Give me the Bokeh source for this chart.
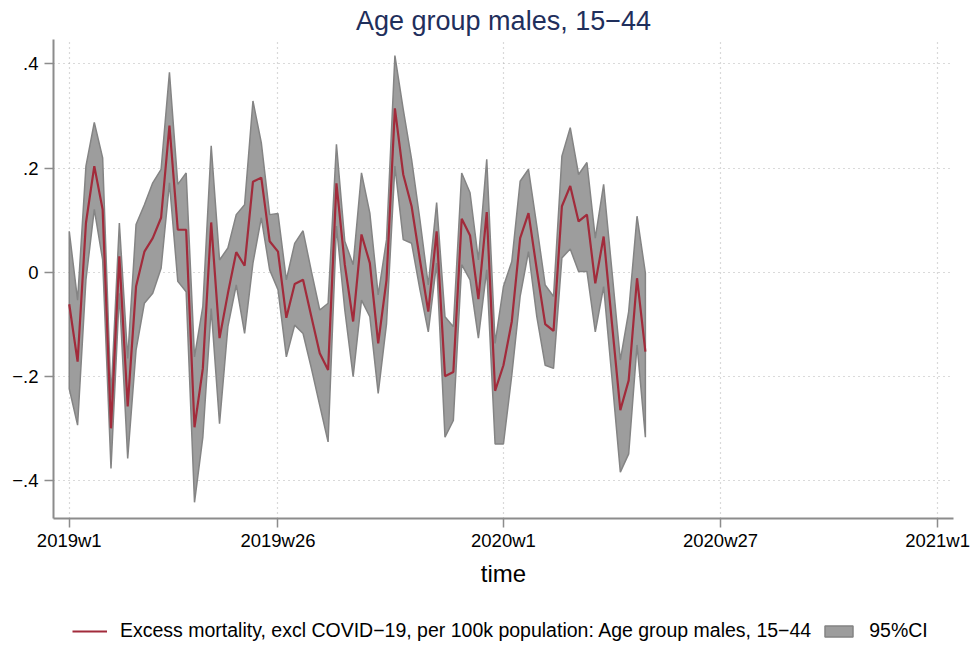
from bokeh.plotting import figure
from bokeh.models import FixedTicker, Legend, LegendItem
from bokeh.layouts import column
from bokeh.embed import file_html
from bokeh.resources import INLINE

# ---- data (weeks since 2019w1, Stata-style 52 weeks per year) ----
week_index = list(range(70))
excess = [-0.061, -0.171, 0.095, 0.204, 0.121, -0.299, 0.031, -0.257, -0.027, 0.040,
          0.066, 0.105, 0.282, 0.082, 0.082, -0.297, -0.184, 0.096, -0.126, -0.040,
          0.039, 0.013, 0.174, 0.182, 0.060, 0.040, -0.087, -0.022, -0.014, -0.085,
          -0.155, -0.187, 0.171, 0.015, -0.094, 0.073, 0.018, -0.136, -0.014, 0.315,
          0.188, 0.127, 0.024, -0.075, 0.079, -0.199, -0.191, 0.103, 0.071, -0.051,
          0.116, -0.227, -0.178, -0.094, 0.066, 0.114, 0.005, -0.099, -0.112, 0.127,
          0.166, 0.098, 0.111, -0.021, 0.069, -0.098, -0.264, -0.207, -0.011, -0.152]
ci_upper = [0.079, -0.053, 0.204, 0.288, 0.220, -0.240, 0.095, -0.165, 0.092, 0.130,
            0.172, 0.198, 0.384, 0.169, 0.191, -0.162, -0.065, 0.243, 0.024, 0.047,
            0.111, 0.130, 0.329, 0.249, 0.111, 0.113, -0.014, 0.056, 0.080, 0.002,
            -0.072, -0.059, 0.246, 0.060, 0.015, 0.191, 0.114, -0.043, 0.063, 0.416,
            0.313, 0.217, 0.101, -0.024, 0.134, -0.085, -0.104, 0.191, 0.153, 0.024,
            0.217, -0.136, -0.027, 0.021, 0.175, 0.198, 0.089, -0.024, -0.046, 0.223,
            0.278, 0.188, 0.211, 0.066, 0.169, 0.002, -0.168, -0.075, 0.108, -0.001]
ci_lower = [-0.223, -0.293, -0.014, 0.121, 0.024, -0.376, -0.040, -0.357, -0.149, -0.059,
            -0.040, 0.008, 0.172, -0.017, -0.037, -0.441, -0.316, -0.069, -0.290, -0.104,
            -0.024, -0.117, 0.018, 0.105, 0.005, -0.033, -0.162, -0.101, -0.117, -0.184,
            -0.255, -0.325, 0.089, -0.072, -0.200, -0.053, -0.085, -0.232, -0.098, 0.204,
            0.063, 0.056, -0.033, -0.114, 0.018, -0.316, -0.284, 0.015, -0.014, -0.126,
            0.005, -0.329, -0.329, -0.197, -0.046, 0.040, -0.085, -0.178, -0.184, 0.028,
            0.045, 0.002, 0.002, -0.114, -0.027, -0.203, -0.383, -0.348, -0.139, -0.316]

x_tick_pos = [0, 25, 52, 78, 104]
x_tick_labels = ["2019w1", "2019w26", "2020w1", "2020w27", "2021w1"]
y_tick_pos = [-0.4, -0.2, 0.0, 0.2, 0.4]
y_tick_labels = ["\u2212.4", "\u2212.2", "0", ".2", ".4"]

series_label = "Excess mortality, excl COVID\u221219, per 100k population: Age group males, 15\u221244"
ci_label = "95%CI"
title_text = "Age group males, 15\u221244"
x_title = "time"

FONT = "Liberation Sans"
AXIS_COLOR = "#8c8c8c"
GRID_COLOR = "#b4b4b4"
LINE_COLOR = "#a22b3b"
BAND_FILL = "#9d9d9d"
BAND_EDGE = "#848484"

p = figure(width=977, height=600, x_range=(-1.886, 105.9), y_range=(-0.472, 0.447),
           output_backend="svg", toolbar_location=None,
           min_border_left=53, min_border_right=24, min_border_top=0, min_border_bottom=82,
           background_fill_color="white", border_fill_color="white")
p.outline_line_color = None

# CI band as polygon
band_x = week_index + week_index[::-1]
band_y = ci_upper + ci_lower[::-1]
p.patch(band_x, band_y, fill_color=BAND_FILL, line_color=BAND_EDGE, line_width=1.5)
p.line(week_index, excess, line_color=LINE_COLOR, line_width=2.2)

# title
p.title.text = title_text
p.title.align = "center"
p.title.text_font = FONT
p.title.text_font_size = "27px"
p.title.text_font_style = "normal"
p.title.text_color = "#1f2f5c"
p.title.standoff = 7

# axes
xa = p.xaxis[0]
xa.ticker = FixedTicker(ticks=x_tick_pos)
xa.major_label_overrides = {k: v for k, v in zip(x_tick_pos, x_tick_labels)}
ya = p.yaxis[0]
ya.ticker = FixedTicker(ticks=y_tick_pos)
ya.major_label_overrides = {k: v for k, v in zip(y_tick_pos, y_tick_labels)}
for ax in (xa, ya):
    ax.axis_line_color = AXIS_COLOR
    ax.axis_line_width = 2
    ax.major_tick_line_color = AXIS_COLOR
    ax.major_tick_line_width = 1.5
    ax.major_tick_out = 9
    ax.major_tick_in = 0
    ax.minor_tick_line_color = None
    ax.major_label_text_font = FONT
    ax.major_label_text_font_size = "18.5px"
    ax.major_label_text_color = "black"
xa.major_label_standoff = 2
ya.major_label_standoff = 6
ya.major_label_orientation = "horizontal"
xa.axis_label = x_title
xa.axis_label_text_font = FONT
xa.axis_label_text_font_size = "24px"
xa.axis_label_text_font_style = "normal"
xa.axis_label_text_color = "black"
xa.axis_label_standoff = 6

# grid
for g in (p.xgrid[0], p.ygrid[0]):
    g.grid_line_color = GRID_COLOR
    g.grid_line_dash = "1 4"
    g.grid_line_width = 1.2
p.xgrid[0].ticker = FixedTicker(ticks=x_tick_pos)
p.ygrid[0].ticker = FixedTicker(ticks=y_tick_pos)

# legend strip below the chart (its frame is aligned with the chart's frame);
# key glyphs reuse the data but the ranges keep them out of view
leg = figure(width=977, height=47, x_range=(-1000, -999), y_range=(-1000, -999),
             output_backend="svg", toolbar_location=None,
             x_axis_type=None, y_axis_type=None, min_border=0,
             background_fill_color="white", border_fill_color="white")
leg.outline_line_color = None
leg.xgrid.visible = False
leg.ygrid.visible = False
key_line = leg.line(week_index, excess, line_color=LINE_COLOR, line_width=2.2)
key_band = leg.patch(band_x, band_y, fill_color=BAND_FILL, line_color=BAND_EDGE, line_width=1.5)
legend = Legend(items=[LegendItem(label=series_label, renderers=[key_line]),
                       LegendItem(label=ci_label, renderers=[key_band])],
                orientation="horizontal", location=(19, 5),
                border_line_color=None, background_fill_alpha=0,
                label_text_font=FONT, label_text_font_size="19.5px",
                label_text_color="black",
                glyph_width=35, glyph_height=14, label_standoff=13, spacing=10,
                padding=0, margin=0)
leg.add_layout(legend, "center")

layout = column(p, leg, spacing=0)
open("out.html", "w").write(file_html(layout, INLINE))
